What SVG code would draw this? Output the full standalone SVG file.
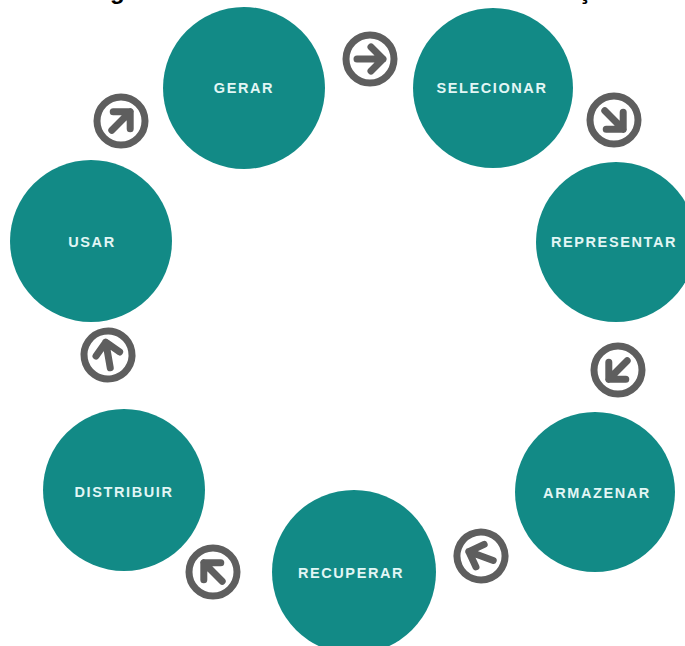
<svg xmlns="http://www.w3.org/2000/svg" xmlns:xlink="http://www.w3.org/1999/xlink" width="685" height="646" viewBox="0 0 685 646">
<style>
.node{fill:#128a86}
.lbl{font-family:"Liberation Sans",Arial,sans-serif;font-weight:bold;font-size:14.5px;letter-spacing:1.6px;fill:#e2f6f5;text-anchor:middle;dominant-baseline:central}
.ring{fill:none;stroke:#5e5e5e;stroke-width:7}
.arw{fill:none;stroke:#5e5e5e;stroke-width:7;stroke-linecap:round;stroke-linejoin:round}
.ttl{font-family:"Liberation Sans",Arial,sans-serif;font-weight:bold;font-size:24px;fill:#000}
</style>
<defs>
<g id="icon">
<circle class="ring" r="24"/>
<path class="arw" d="M-13,0 H13 M1,-12 L13,0 L1,12"/>
</g>
</defs>
<rect width="685" height="646" fill="#fff"/>
<text class="ttl" x="110" y="-1">g</text>
<text class="ttl" x="578" y="-1">ç</text>
<g id="n-gerar"><circle class="node" cx="244" cy="88" r="81"/><text class="lbl" x="244" y="88">GERAR</text></g>
<g id="n-selecionar"><circle class="node" cx="493" cy="88" r="80"/><text class="lbl" x="492" y="88">SELECIONAR</text></g>
<g id="n-representar"><circle class="node" cx="616" cy="242" r="80"/><text class="lbl" x="614" y="242">REPRESENTAR</text></g>
<g id="n-armazenar"><circle class="node" cx="595" cy="492" r="80"/><text class="lbl" x="597" y="493">ARMAZENAR</text></g>
<g id="n-recuperar"><circle class="node" cx="354" cy="572" r="82"/><text class="lbl" x="351" y="573">RECUPERAR</text></g>
<g id="n-distribuir"><circle class="node" cx="124" cy="490" r="81"/><text class="lbl" x="124" y="492">DISTRIBUIR</text></g>
<g id="n-usar"><circle class="node" cx="91" cy="241" r="81"/><text class="lbl" x="92" y="242">USAR</text></g>
<g id="connectors">
<use xlink:href="#icon" transform="translate(121,121) rotate(-45)"/>
<use xlink:href="#icon" transform="translate(370,59)"/>
<use xlink:href="#icon" transform="translate(614,120) rotate(45)"/>
<use xlink:href="#icon" transform="translate(618,370) rotate(135)"/>
<use xlink:href="#icon" transform="translate(481,556) rotate(200)"/>
<use xlink:href="#icon" transform="translate(213,572) rotate(-135)"/>
<use xlink:href="#icon" transform="translate(108,355) rotate(-100)"/>
</g>
</svg>
